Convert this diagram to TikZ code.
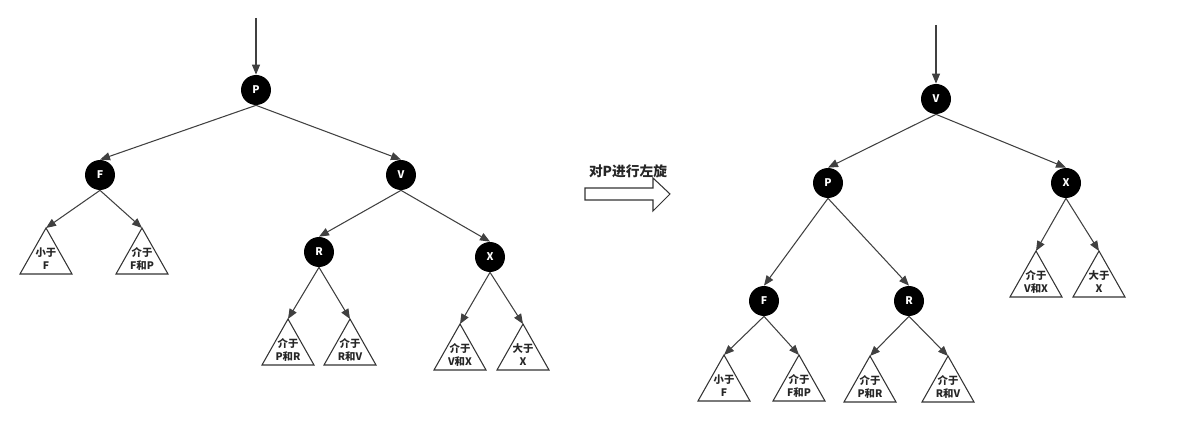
\documentclass[tikz,border=0pt]{standalone}
\usepackage{fontspec}
\newfontfamily\cjk{Noto Sans CJK SC}
\usepackage{tikz}
\usetikzlibrary{arrows.meta,calc}
\tikzset{
  knot/.style={circle,fill=black,text=white,inner sep=0pt,minimum size=0.6cm,
    font=\cjk\bfseries\fontsize{6}{6}\selectfont},
  nyil/.style={draw=black!75,line width=0.6pt,-{Triangle[length=2mm,width=1.6mm]}},
  fa/.style={draw=black!80,line width=0.6pt},
  felirat/.style={align=center,inner sep=0pt,text=black!85,
    font=\cjk\bfseries\fontsize{5.9}{7.4}\selectfont},
}
% subtree triangle: name, apex x, apex y, text
\newcommand{\reszfa}[4]{%
  \coordinate (#1) at (#2,#3);
  \draw[fa] (#1) -- ++(-26,46) -- ++(52,0) -- cycle;
  \node[felirat] at ($(#1)+(0,31)$) {#4};
}
\begin{document}
\begin{tikzpicture}[x=0.02cm,y=-0.02cm]
  \useasboundingbox (0,0) rectangle (1188,435);
  % left tree
  \coordinate (be1) at (256,18);
  \node[knot] (P) at (256,90) {P};
  \node[knot] (F) at (100,175) {F};
  \node[knot] (V) at (401,175) {V};
  \node[knot] (R) at (319,252) {R};
  \node[knot] (X) at (490,257) {X};
  \reszfa{a1}{46}{228}{小于\\F}
  \reszfa{a2}{142}{228}{介于\\F和P}
  \reszfa{a3}{288}{319}{介于\\P和R}
  \reszfa{a4}{350}{319}{介于\\R和V}
  \reszfa{a5}{460}{324}{介于\\V和X}
  \reszfa{a6}{523}{324}{大于\\X}
  \draw[nyil] (be1) -- (P.north);
  \draw[nyil] (P.south) -- (F.north);
  \draw[nyil] (P.south) -- (V.north);
  \draw[nyil] (F.south) -- (a1);
  \draw[nyil] (F.south) -- (a2);
  \draw[nyil] (V.south) -- (R.north);
  \draw[nyil] (V.south) -- (X.north);
  \draw[nyil] (R.south) -- (a3);
  \draw[nyil] (R.south) -- (a4);
  \draw[nyil] (X.south) -- (a5);
  \draw[nyil] (X.south) -- (a6);
  % rotation arrow
  \node[font=\cjk\bfseries\fontsize{7.8}{8}\selectfont,text=black!85,inner sep=0pt]
    (forgat) at (628,171) {对P进行左旋};
  \draw[fa,fill=white] (585,188) -- (653,188) -- (653,178) -- (670,194)
    -- (653,211) -- (653,200) -- (585,200) -- cycle;
  % right tree
  \coordinate (be2) at (936,25);
  \node[knot] (V2) at (936,99) {V};
  \node[knot] (P2) at (828,183) {P};
  \node[knot] (X2) at (1066,183) {X};
  \node[knot] (F2) at (764,301) {F};
  \node[knot] (R2) at (909,301) {R};
  \reszfa{b1}{1036}{251}{介于\\V和X}
  \reszfa{b2}{1099}{251}{大于\\X}
  \reszfa{b3}{724}{355}{小于\\F}
  \reszfa{b4}{799}{355}{介于\\F和P}
  \reszfa{b5}{870}{356}{介于\\P和R}
  \reszfa{b6}{948}{356}{介于\\R和V}
  \draw[nyil] (be2) -- (V2.north);
  \draw[nyil] (V2.south) -- (P2.north);
  \draw[nyil] (V2.south) -- (X2.north);
  \draw[nyil] (X2.south) -- (b1);
  \draw[nyil] (X2.south) -- (b2);
  \draw[nyil] (P2.south) -- (F2.north);
  \draw[nyil] (P2.south) -- (R2.north);
  \draw[nyil] (F2.south) -- (b3);
  \draw[nyil] (F2.south) -- (b4);
  \draw[nyil] (R2.south) -- (b5);
  \draw[nyil] (R2.south) -- (b6);
\end{tikzpicture}
\end{document}
